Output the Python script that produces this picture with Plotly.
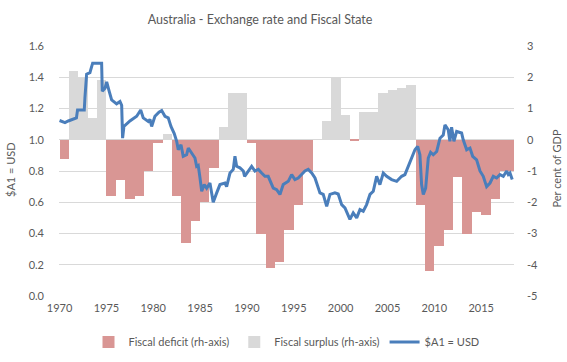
import datetime as dt
import plotly.graph_objects as go

# ---------------- data ----------------
fiscal_years = list(range(1970, 2019))
fiscal_balance = [  # per cent of GDP (rh-axis)
    -0.6, 2.2, 2.0, 0.7, 1.9, -1.8, -1.3, -1.9, -1.8, -1.0,
    -0.1, 0.2, -1.8, -3.3, -2.6, -2.0, -0.9, 0.4, 1.5, 1.5,
    -0.1, -3.0, -4.1, -3.9, -2.9, -2.1, -1.0, 0.0, 0.6, 2.0,
    0.8, -0.05, 0.9, 0.9, 1.5, 1.6, 1.65, 1.75, -2.1, -4.2,
    -3.4, -2.9, -1.2, -3.0, -2.3, -2.4, -1.9, -1.0, -1.0,
]

fx_points = [  # (decimal year, $A1 = USD)
    (1970.00, 1.123), (1970.58, 1.11), (1970.93, 1.12), (1971.46, 1.13), (1971.80, 1.14),
    (1971.92, 1.19), (1972.53, 1.19), (1972.64, 1.19), (1972.71, 1.27), (1972.89, 1.42),
    (1973.24, 1.43), (1973.53, 1.49), (1974.49, 1.49), (1974.56, 1.31), (1974.85, 1.33),
    (1975.03, 1.37), (1975.30, 1.31), (1975.56, 1.255), (1976.09, 1.23), (1976.45, 1.245),
    (1976.63, 1.22), (1976.73, 1.01), (1976.87, 1.085), (1977.51, 1.12), (1978.23, 1.15),
    (1978.66, 1.19), (1978.93, 1.14), (1979.30, 1.12), (1979.47, 1.117), (1979.65, 1.13),
    (1979.83, 1.085), (1980.18, 1.15), (1980.61, 1.177), (1980.90, 1.187), (1981.25, 1.15),
    (1981.60, 1.14), (1981.89, 1.085), (1982.24, 1.04), (1982.50, 0.99), (1982.67, 0.936),
    (1982.96, 0.968), (1983.20, 0.894), (1983.56, 0.904), (1983.74, 0.947), (1984.10, 0.915),
    (1984.45, 0.883), (1984.63, 0.83), (1984.80, 0.836), (1984.98, 0.76), (1985.17, 0.67),
    (1985.44, 0.713), (1985.70, 0.69), (1986.05, 0.723), (1986.40, 0.60), (1986.77, 0.66),
    (1987.12, 0.713), (1987.65, 0.723), (1987.83, 0.70), (1988.19, 0.787), (1988.54, 0.81),
    (1988.72, 0.894), (1988.90, 0.83), (1989.25, 0.82), (1989.61, 0.80), (1989.75, 0.766),
    (1989.97, 0.787), (1990.50, 0.83), (1990.85, 0.80), (1991.21, 0.81), (1991.57, 0.787),
    (1991.92, 0.766), (1992.27, 0.766), (1992.81, 0.69), (1993.17, 0.68), (1993.52, 0.65),
    (1993.87, 0.713), (1994.41, 0.734), (1994.77, 0.777), (1995.12, 0.745), (1995.47, 0.755),
    (1995.84, 0.777), (1996.19, 0.80), (1996.54, 0.81), (1996.91, 0.787), (1997.26, 0.755),
    (1997.79, 0.66), (1998.14, 0.65), (1998.51, 0.574), (1998.86, 0.65), (1999.39, 0.66),
    (1999.74, 0.653), (2000.11, 0.585), (2000.46, 0.564), (2000.81, 0.51), (2000.99, 0.49),
    (2001.34, 0.532), (2001.71, 0.50), (2002.06, 0.553), (2002.41, 0.543), (2002.77, 0.585),
    (2003.13, 0.65), (2003.48, 0.67), (2003.84, 0.766), (2004.19, 0.713), (2004.55, 0.787),
    (2004.91, 0.766), (2005.44, 0.745), (2005.98, 0.734), (2006.51, 0.766), (2006.86, 0.777),
    (2007.21, 0.83), (2007.58, 0.894), (2007.93, 0.936), (2008.22, 0.957), (2008.46, 0.904),
    (2008.64, 0.713), (2008.82, 0.65), (2009.07, 0.69), (2009.35, 0.883), (2009.60, 0.92),
    (2009.88, 0.904), (2010.25, 0.925), (2010.60, 1.01), (2010.95, 1.03), (2011.13, 1.095),
    (2011.48, 1.064), (2011.66, 0.99), (2011.84, 1.08), (2012.09, 0.99), (2012.38, 1.053),
    (2012.91, 1.043), (2013.08, 1.0), (2013.45, 0.936), (2013.80, 0.947), (2014.09, 0.894),
    (2014.51, 0.872), (2014.87, 0.80), (2015.22, 0.766), (2015.58, 0.70), (2015.94, 0.723),
    (2016.29, 0.766), (2016.65, 0.755), (2017.00, 0.777), (2017.36, 0.766), (2017.72, 0.80),
    (2017.89, 0.777), (2018.07, 0.787), (2018.31, 0.745),
]

year_ticks = [1970, 1975, 1980, 1985, 1990, 1995, 2000, 2005, 2010, 2015]
left_ticks = [0.0, 0.2, 0.4, 0.6, 0.8, 1.0, 1.2, 1.4, 1.6]
right_ticks = [-5, -4, -3, -2, -1, 0, 1, 2, 3]

# ---------------- helpers ----------------
def ydate(y):
    base = dt.datetime(int(y), 1, 1)
    return base + dt.timedelta(days=(y - int(y)) * 365.25)

YEAR_MS = 365.25 * 24 * 3600 * 1000
bar_x = [dt.datetime(y, 7, 2) for y in fiscal_years]
deficit = [v if v < 0 else None for v in fiscal_balance]
surplus = [v if v > 0 else None for v in fiscal_balance]

FONT = "Lato, 'Open Sans', sans-serif"
GREY = "#595959"

fig = go.Figure()
# bars on the primary (right-hand) axis, line on the overlaying (left-hand) axis so it is drawn on top
fig.add_trace(go.Bar(x=bar_x, y=deficit, width=[YEAR_MS] * len(bar_x),
                     name="Fiscal deficit (rh-axis)", marker=dict(color="#D99694", line=dict(width=0)),
                     yaxis="y"))
fig.add_trace(go.Bar(x=bar_x, y=surplus, width=[YEAR_MS] * len(bar_x),
                     name="Fiscal surplus (rh-axis)", marker=dict(color="#D9D9D9", line=dict(width=0)),
                     yaxis="y"))
fig.add_trace(go.Scatter(x=[ydate(p[0]) for p in fx_points], y=[p[1] for p in fx_points],
                         mode="lines", name="$A1 = USD",
                         line=dict(color="#4A7EBB", width=3), yaxis="y2"))

fig.update_layout(
    width=567, height=362,
    margin=dict(l=59, r=53, t=46, b=66, autoexpand=False),
    paper_bgcolor="white", plot_bgcolor="white",
    barmode="overlay", bargap=0,
    font=dict(family=FONT, size=11, color=GREY),
    title=dict(text="Australia - Exchange rate and Fiscal State", x=260 / 567, xanchor="center",
               y=1 - 20 / 362, yanchor="middle", yref="container",
               font=dict(family=FONT, size=12.5, color=GREY)),
    xaxis=dict(type="date", range=[ydate(1969.94), ydate(2018.50)],
               tickvals=[dt.datetime(y, 1, 1) for y in year_ticks],
               ticktext=[str(y) for y in year_ticks], automargin=False,
               showgrid=False, zeroline=False, showline=False, ticks="",
               ticklabelstandoff=4, tickfont=dict(family=FONT, size=11, color=GREY)),
    yaxis=dict(range=[-5, 3], tickvals=right_ticks, ticktext=[str(v) for v in right_ticks],
               side="right", showgrid=True, gridcolor="#D9D9D9", gridwidth=1,
               zeroline=False, showline=False, automargin=False,
               ticks="", ticklabelstandoff=12, tickfont=dict(family=FONT, size=11, color=GREY)),
    yaxis2=dict(range=[0, 1.6], tickvals=left_ticks, ticktext=[f"{v:.1f}" for v in left_ticks],
                overlaying="y", side="left", showgrid=False, zeroline=False, showline=False,
                automargin=False,
                ticks="", ticklabelstandoff=14, tickfont=dict(family=FONT, size=11, color=GREY)),
    legend=dict(orientation="h", x=0.5, xanchor="center", y=-0.184, yanchor="middle",
                font=dict(family=FONT, size=11, color=GREY), traceorder="normal",
                itemwidth=30, bgcolor="rgba(0,0,0,0)"),
    annotations=[
        dict(text="$A1 = USD", xref="paper", yref="paper", x=(10 - 59) / 455, y=0.504,
             textangle=-90, showarrow=False, xanchor="center", yanchor="middle",
             font=dict(family=FONT, size=11, color=GREY)),
        dict(text="Per cent of GDP", xref="paper", yref="paper", x=(556 - 59) / 455, y=0.51,
             textangle=-90, showarrow=False, xanchor="center", yanchor="middle",
             font=dict(family=FONT, size=11, color=GREY)),
    ],
)

fig.write_html("out.html", config={"displayModeBar": False},
               post_script="document.body.style.margin='0';")
